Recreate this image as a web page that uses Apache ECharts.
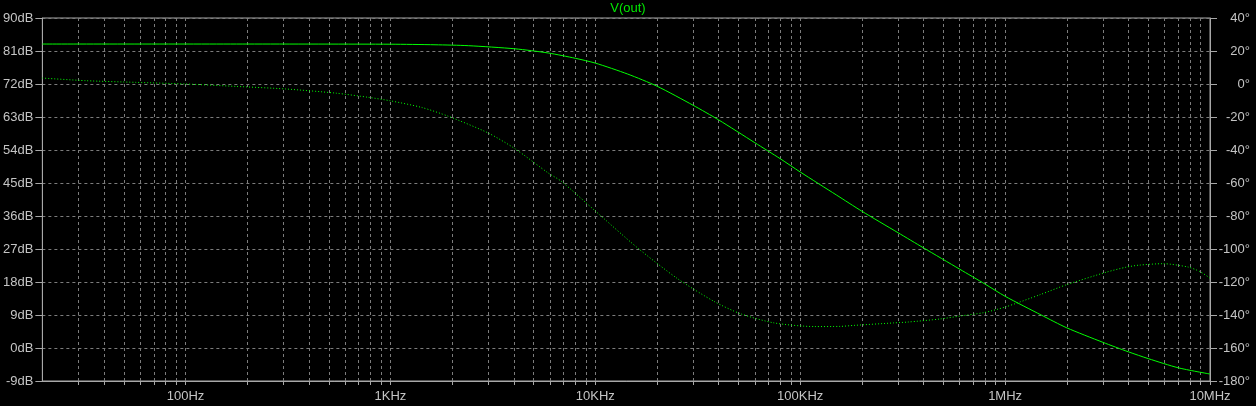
<!DOCTYPE html>
<html><head><meta charset="utf-8">
<script src="https://cdn.jsdelivr.net/npm/echarts@6/dist/echarts.min.js"></script>
<style>html,body{margin:0;padding:0;background:#000;}#c{width:1256px;height:406px;}</style>
</head><body><div id="c"></div>
<script>
// Magnitude (solid, left axis, dB)
const freqMag = [20, 200, 1000, 1650, 2400, 4050, 5900, 8000, 10000, 14400, 20000, 30000, 40000, 60000, 80000, 100000, 150000, 200000, 300000, 400000, 600000, 800000, 1000000, 1500000, 2000000, 3000000, 4000000, 5000000, 7000000, 10000000];
const magDb   = [82.9, 82.9, 82.85, 82.7, 82.45, 81.6, 80.45, 79.0, 77.7, 74.7, 71.4, 66.2, 62.2, 56.0, 51.6, 48.0, 41.75, 37.3, 31.45, 27.3, 21.5, 17.4, 14.1, 9.0, 5.5, 1.55, -1.05, -2.9, -5.4, -7.1];
// Phase (dotted, right axis, degrees)
const freqPhase = [20, 32.7, 57, 100, 176, 307, 538, 783, 1000, 1420, 1920, 3000, 4050, 5900, 6830, 9900, 16100, 25200, 38000, 51000, 74600, 117000, 157000, 183000, 286000, 333000, 483000, 604000, 784000, 1000000, 1480000, 2000000, 3130000, 3900000, 4500000, 5900000, 7800000, 8900000, 10000000];
const phaseDeg  = [3.6, 2.0, 1.0, 0, -1.45, -3, -5.5, -8.1, -10.2, -14.2, -19.6, -29.7, -39.2, -54, -59, -76.5, -99.4, -118, -131.8, -139.2, -144.8, -147, -146.9, -146.3, -144.8, -144.3, -142.4, -140.6, -138.6, -135.2, -127.7, -121.6, -114.0, -111.0, -109.8, -108.9, -110.9, -113.6, -117.6];
// Axis ticks
const xGridFreqs = [30,40,50,60,70,80,90,
  100,200,300,400,500,600,700,800,900,
  1000,2000,3000,4000,5000,6000,7000,8000,9000,
  10000,20000,30000,40000,50000,60000,70000,80000,90000,
  100000,200000,300000,400000,500000,600000,700000,800000,900000,
  1000000,2000000,3000000,4000000,5000000,6000000,7000000,8000000,9000000,
  10000000];
const xLabelFreqs = [100, 1000, 10000, 100000, 1000000, 10000000];
const xLabelTexts = ['100Hz', '1KHz', '10KHz', '100KHz', '1MHz', '10MHz'];
const dbMin = -9, dbMax = 90, dbStep = 9;
const degMin = -180, degMax = 40, degStep = 20;

const FONT = 'Liberation Sans';
const AX = '#a8a8a8', GRID = '#7c7c7c', TXT = '#c4c4c4', GREEN = '#00ff00';

const chart = echarts.init(document.getElementById('c'), null, {renderer: 'canvas'});
chart.setOption({
  backgroundColor: '#000',
  animation: false,
  title: {
    text: 'V(out)', left: 'center', top: 2, padding: 0,
    textStyle: {color: '#00e800', fontFamily: FONT, fontSize: 13, fontWeight: 'normal'}
  },
  grid: {left: 40, right: 46, top: 18, bottom: 25, show: true, borderColor: AX, borderWidth: 1, backgroundColor: '#000'},
  xAxis: {
    type: 'log', logBase: 10, min: 20, max: 10000000,
    axisLine: {show: true, onZero: false, lineStyle: {color: AX}},
    axisTick: {show: true, customValues: xGridFreqs, length: 4, lineStyle: {color: AX}},
    axisLabel: {
      customValues: xLabelFreqs, color: TXT, fontFamily: FONT, fontSize: 13, margin: 9,
      formatter: v => { const i = xLabelFreqs.findIndex(f => Math.abs(f - v) / f < 1e-6); return i >= 0 ? xLabelTexts[i] : ''; }
    },
    splitLine: {show: true, lineStyle: {color: GRID, type: [3, 3], width: 1}},
    minorTick: {show: false}, minorSplitLine: {show: false}
  },
  yAxis: [{
    type: 'value', min: dbMin, max: dbMax, interval: dbStep, position: 'left',
    axisLine: {show: true, lineStyle: {color: AX}},
    axisTick: {show: true, length: 7, lineStyle: {color: AX}},
    axisLabel: {color: TXT, fontFamily: FONT, fontSize: 13, margin: 9, formatter: '{value}dB'},
    splitLine: {show: true, lineStyle: {color: GRID, type: [3, 3], width: 1}}
  }, {
    type: 'value', min: degMin, max: degMax, interval: degStep, position: 'right',
    axisLine: {show: true, lineStyle: {color: AX}},
    axisTick: {show: true, length: 7, lineStyle: {color: AX}},
    axisLabel: {color: TXT, fontFamily: FONT, fontSize: 13, margin: 40, align: 'right', formatter: '{value}°'},
    splitLine: {show: false}
  }],
  series: [{
    name: 'mag', type: 'line', yAxisIndex: 0, showSymbol: false, smooth: 0.25,
    data: freqMag.map((f, i) => [f, magDb[i]]),
    lineStyle: {color: GREEN, width: 1}, z: 3
  }, {
    name: 'phase', type: 'line', yAxisIndex: 1, showSymbol: false, smooth: 0.25,
    data: freqPhase.map((f, i) => [f, phaseDeg[i]]),
    lineStyle: {color: GREEN, width: 1, type: [1, 2]}, z: 2
  }]
});
</script></body></html>
